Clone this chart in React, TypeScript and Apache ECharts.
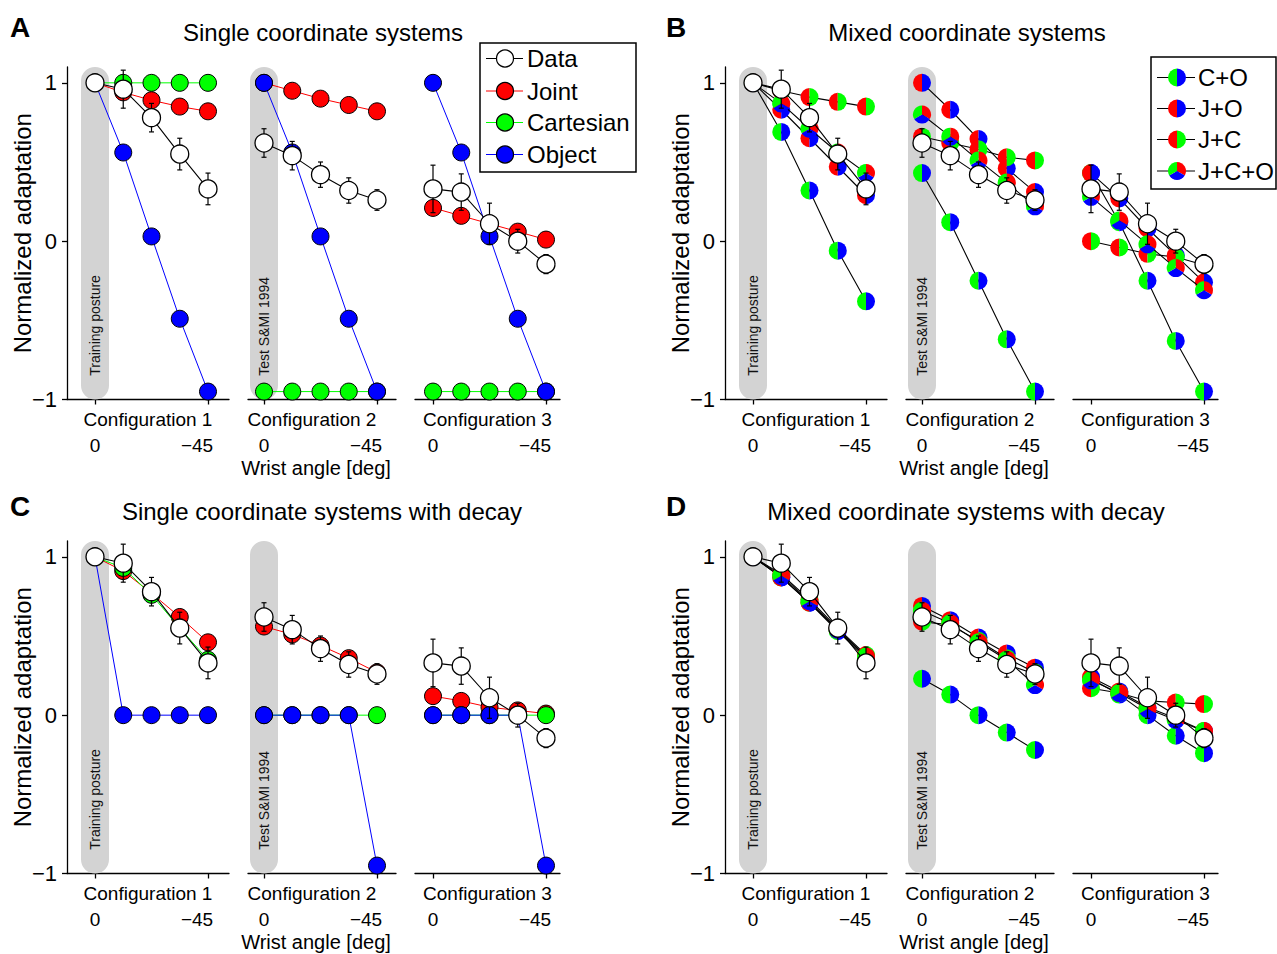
import React, { useEffect, useRef } from "react";
import * as echarts from "echarts";

const FONT = "'Liberation Sans', Arial, Helvetica, sans-serif";
const RED = "#ff0000";
const GREEN = "#00ff00";
const BLUE = "#0000ff";
const BAR_GRAY = "#d3d3d3";

// Test postures (wrist angle in degrees) for each configuration
const wristAngles = [0, -11.25, -22.5, -33.75, -45];
const configNames = ["Configuration 1", "Configuration 2", "Configuration 3"];
const barLabels = ["Training posture", "Test S&MI 1994"];
const yTicks = [-1, 0, 1];
const xTicks = [0, -45];
const Y_MIN = -1;
const Y_MAX = 1.1;
const BAR_LABEL_BOTTOM = -0.85;

const panelTitles = [
  "Single coordinate systems",
  "Mixed coordinate systems",
  "Single coordinate systems with decay",
  "Mixed coordinate systems with decay",
];
const panelLetters = ["A", "B", "C", "D"];

// Measured adaptation (mean and error), one row per configuration
const dataMean = [
  [1.0, 0.96, 0.78, 0.55, 0.33],
  [0.62, 0.54, 0.42, 0.32, 0.26],
  [0.33, 0.31, 0.11, 0.0, -0.145],
];
const dataErr = [
  [0, 0.12, 0.09, 0.1, 0.1],
  [0.09, 0.09, 0.08, 0.08, 0.065],
  [0.15, 0.115, 0.13, 0.075, 0.06],
];

// A: single coordinate systems
const singleJoint = [
  [1, 0.94, 0.89, 0.85, 0.82],
  [1, 0.95, 0.9, 0.86, 0.82],
  [0.21, 0.16, 0.11, 0.06, 0.01],
];
const singleCartesian = [
  [1, 1, 1, 1, 1],
  [-0.95, -0.95, -0.95, -0.95, -0.95],
  [-0.95, -0.95, -0.95, -0.95, -0.95],
];
const singleObject = [
  [1, 0.56, 0.03, -0.49, -0.95],
  [1, 0.56, 0.03, -0.49, -0.95],
  [1, 0.56, 0.03, -0.49, -0.95],
];

// C: single coordinate systems with decay
const decayJoint = [
  [1, 0.91, 0.77, 0.62, 0.46],
  [0.56, 0.51, 0.44, 0.36, 0.27],
  [0.12, 0.09, 0.05, 0.03, 0.01],
];
const decayCartesian = [
  [1, 0.93, 0.76, 0.55, 0.35],
  [0, 0, 0, 0, 0],
  [0, 0, 0, 0, 0],
];
const decayObject = [
  [1, 0, 0, 0, 0],
  [0, 0, 0, 0, -0.95],
  [0, 0, 0, 0, -0.95],
];

// B: mixed coordinate systems
const mixedCO = [
  [1, 0.69, 0.32, -0.06, -0.38],
  [0.43, 0.12, -0.25, -0.62, -0.95],
  [0.43, 0.12, -0.25, -0.63, -0.95],
];
const mixedJO = [
  [1, 0.83, 0.65, 0.47, 0.29],
  [1, 0.83, 0.645, 0.46, 0.31],
  [0.43, 0.27, 0.08, -0.09, -0.26],
];
const mixedJC = [
  [1, 0.95, 0.91, 0.88, 0.85],
  [0.66, 0.62, 0.58, 0.53, 0.51],
  [0.0, -0.04, -0.08, -0.1, -0.15],
];
const mixedJCO = [
  [1, 0.87, 0.71, 0.56, 0.43],
  [0.8, 0.66, 0.51, 0.37, 0.22],
  [0.28, 0.13, -0.02, -0.17, -0.31],
];

// D: mixed coordinate systems with decay
const decayMixedCO = [
  [1, 0.87, 0.71, 0.53, 0.36],
  [0.23, 0.13, 0.0, -0.11, -0.22],
  [0.23, 0.13, 0.0, -0.13, -0.24],
];
const decayMixedJO = [
  [1, 0.87, 0.71, 0.54, 0.37],
  [0.69, 0.6, 0.49, 0.39, 0.3],
  [0.24, 0.15, 0.05, -0.02, -0.1],
];
const decayMixedJC = [
  [1, 0.89, 0.73, 0.55, 0.38],
  [0.59, 0.57, 0.47, 0.36, 0.27],
  [0.17, 0.14, 0.09, 0.08, 0.07],
];
const decayMixedJCO = [
  [1, 0.88, 0.72, 0.54, 0.37],
  [0.66, 0.58, 0.46, 0.35, 0.19],
  [0.22, 0.14, 0.04, -0.03, -0.1],
];

// Layout (pixels) of one panel; other panels are shifted copies
const PANEL_OFFSETS = [
  { x: 0, y: 0 },
  { x: 658, y: 0 },
  { x: 0, y: 474 },
  { x: 658, y: 474 },
];
const TEXT_OFFSETS_Y = [0, 0, 479, 479];
const TITLE_X = [323, 967, 322, 966];
const LETTER_X = [10, 666, 10, 666];
const PLOT_TOP = 67;
const PLOT_BOTTOM = 399.5;
const CONFIG_PX = [
  { left: 67, zero: 95, end: 208, right: 229 },
  { left: 248, zero: 264, end: 377, right: 396 },
  { left: 415, zero: 433, end: 546, right: 560 },
];
const MARKER = 17;
const PIE_R = 9;

const H = Math.PI / 2;
type Seg = { from: number; to: number; color: string };
const halves = (left: string, right: string): Seg[] => [
  { from: H, to: 3 * H, color: left },
  { from: -H, to: H, color: right },
];
const thirds: Seg[] = [
  { from: -H, to: Math.PI / 6, color: RED },
  { from: Math.PI / 6, to: (5 * Math.PI) / 6, color: BLUE },
  { from: (5 * Math.PI) / 6, to: 3 * H, color: GREEN },
];
const mixedKinds = [
  { name: "C+O", segs: halves(GREEN, BLUE) },
  { name: "J+O", segs: halves(RED, BLUE) },
  { name: "J+C", segs: halves(RED, GREEN) },
  { name: "J+C+O", segs: thirds },
];
const singleKinds = [
  { name: "Joint", color: RED },
  { name: "Cartesian", color: GREEN },
  { name: "Object", color: BLUE },
];

const minus = (v: number) => (v < 0 ? "\u2212" + Math.abs(v) : String(v));
const pointsOf = (vals: number[]) => wristAngles.map((a, k) => [a, vals[k]]);

function buildOption() {
  const grids: any[] = [];
  const xAxes: any[] = [];
  const yAxes: any[] = [];
  const series: any[] = [];
  const graphics: any[] = [];

  const panels = [
    { mixed: false, sets: [singleJoint, singleCartesian, singleObject] },
    { mixed: true, sets: [mixedCO, mixedJO, mixedJC, mixedJCO] },
    { mixed: false, sets: [decayJoint, decayCartesian, decayObject] },
    { mixed: true, sets: [decayMixedCO, decayMixedJO, decayMixedJC, decayMixedJCO] },
  ];

  panels.forEach((panel, p) => {
    const off = PANEL_OFFSETS[p];
    for (let c = 0; c < 3; c++) {
      const L = CONFIG_PX[c];
      const gi = grids.length;
      const degPerPx = 45 / (L.end - L.zero);
      grids.push({
        left: off.x + L.left,
        top: off.y + PLOT_TOP,
        width: L.right - L.left,
        height: PLOT_BOTTOM - PLOT_TOP,
        outerBoundsMode: "none",
        containLabel: false,
      });
      xAxes.push({
        gridIndex: gi,
        type: "value",
        inverse: true,
        min: -45 - (L.right - L.end) * degPerPx,
        max: (L.zero - L.left) * degPerPx,
        name: configNames[c],
        nameLocation: "middle",
        nameGap: 10,
        nameMoveOverlap: false,
        nameTextStyle: {
          fontFamily: FONT,
          fontSize: 19,
          color: "#000",
          padding: c === 1 ? [0, 20, 0, 0] : 0,
        },
        axisLine: { onZero: false, lineStyle: { color: "#000", width: 1.3 } },
        axisTick: { show: true, customValues: xTicks, length: 5, lineStyle: { color: "#000", width: 1.3 } },
        axisLabel: {
          customValues: xTicks,
          margin: 36,
          fontFamily: FONT,
          fontSize: 19,
          color: "#000",
          formatter: (v: number) => (v === 0 ? "0" : `{far|${minus(v)}}`),
          rich: { far: { fontFamily: FONT, fontSize: 19, color: "#000", padding: [0, 22, 0, 0] } },
        },
        splitLine: { show: false },
      });
      yAxes.push({
        gridIndex: gi,
        type: "value",
        min: Y_MIN,
        max: Y_MAX,
        show: c === 0,
        name: c === 0 ? "Normalized adaptation" : "",
        nameLocation: "middle",
        nameGap: 33,
        nameMoveOverlap: false,
        nameTextStyle: { fontFamily: FONT, fontSize: 24, color: "#000" },
        axisLine: { show: true, onZero: false, lineStyle: { color: "#000", width: 1.3 } },
        axisTick: { show: true, customValues: yTicks, length: 5, lineStyle: { color: "#000", width: 1.3 } },
        axisLabel: {
          customValues: yTicks,
          margin: 10,
          fontFamily: FONT,
          fontSize: 22,
          color: "#000",
          formatter: (v: number) => minus(v),
        },
        splitLine: { show: false },
      });

      let z = 2;
      // grey band marking the training / previously tested posture
      if (c < 2) {
        const label = barLabels[c];
        series.push({
          type: "custom",
          xAxisIndex: gi,
          yAxisIndex: gi,
          z: z++,
          silent: true,
          data: [[0, Y_MAX, Y_MIN, BAR_LABEL_BOTTOM]],
          renderItem: (_params: any, api: any) => {
            const top = api.coord([api.value(0), api.value(1)]);
            const bot = api.coord([api.value(0), api.value(2)]);
            const txt = api.coord([api.value(0), api.value(3)]);
            const w = 28;
            return {
              type: "group",
              children: [
                {
                  type: "rect",
                  shape: { x: top[0] - w / 2, y: top[1], width: w, height: bot[1] - top[1], r: w / 2 },
                  style: { fill: BAR_GRAY },
                },
                {
                  type: "text",
                  x: txt[0],
                  y: txt[1],
                  rotation: Math.PI / 2,
                  style: {
                    text: label,
                    fontFamily: FONT,
                    fontSize: 14,
                    fill: "#111",
                    align: "left",
                    verticalAlign: "middle",
                  },
                },
              ],
            };
          },
        });
      }

      if (!panel.mixed) {
        singleKinds.forEach((kind, k) => {
          series.push({
            type: "line",
            name: kind.name,
            xAxisIndex: gi,
            yAxisIndex: gi,
            z: z++,
            data: pointsOf(panel.sets[k][c]),
            symbol: "circle",
            symbolSize: MARKER,
            showAllSymbol: true,
            clip: false,
            lineStyle: { color: kind.color, width: 1 },
            itemStyle: { color: kind.color, borderColor: "#000", borderWidth: 1 },
            emphasis: { disabled: true },
          });
        });
      } else {
        mixedKinds.forEach((kind, k) => {
          const vals = panel.sets[k][c];
          series.push({
            type: "line",
            name: kind.name,
            xAxisIndex: gi,
            yAxisIndex: gi,
            z: z++,
            data: pointsOf(vals),
            symbol: "none",
            clip: false,
            lineStyle: { color: "#000", width: 1.1 },
            emphasis: { disabled: true },
          });
          const segs = kind.segs;
          series.push({
            type: "custom",
            name: kind.name,
            xAxisIndex: gi,
            yAxisIndex: gi,
            z: z++,
            data: pointsOf(vals),
            renderItem: (_params: any, api: any) => {
              const pt = api.coord([api.value(0), api.value(1)]);
              return {
                type: "group",
                children: segs.map((s) => ({
                  type: "sector",
                  shape: { cx: pt[0], cy: pt[1], r0: 0, r: PIE_R, startAngle: s.from, endAngle: s.to, clockwise: true },
                  style: { fill: s.color },
                })),
              };
            },
          });
        });
      }

      // error bars of the measured data
      const mean = dataMean[c];
      const err = dataErr[c];
      series.push({
        type: "custom",
        xAxisIndex: gi,
        yAxisIndex: gi,
        z: z++,
        silent: true,
        data: wristAngles.map((a, k) => [a, mean[k] - err[k], mean[k] + err[k]]),
        renderItem: (_params: any, api: any) => {
          const lo = api.coord([api.value(0), api.value(1)]);
          const hi = api.coord([api.value(0), api.value(2)]);
          if (Math.abs(lo[1] - hi[1]) < 0.5) return { type: "group", children: [] };
          const cap = 2.5;
          const st = { stroke: "#000", lineWidth: 1.2 };
          return {
            type: "group",
            children: [
              { type: "line", shape: { x1: lo[0], y1: lo[1], x2: hi[0], y2: hi[1] }, style: st },
              { type: "line", shape: { x1: hi[0] - cap, y1: hi[1], x2: hi[0] + cap, y2: hi[1] }, style: st },
              { type: "line", shape: { x1: lo[0] - cap, y1: lo[1], x2: lo[0] + cap, y2: lo[1] }, style: st },
            ],
          };
        },
      });
      series.push({
        type: "line",
        name: "Data",
        xAxisIndex: gi,
        yAxisIndex: gi,
        z: z++,
        data: pointsOf(mean),
        symbol: "circle",
        symbolSize: MARKER + 1,
        showAllSymbol: true,
        clip: false,
        lineStyle: { color: "#000", width: 1.1 },
        itemStyle: { color: "#fff", borderColor: "#000", borderWidth: 1.3 },
        emphasis: { disabled: true },
      });
    }

    // panel letter, title and shared x-axis caption
    const ty = TEXT_OFFSETS_Y[p];
    graphics.push({
      type: "text",
      x: LETTER_X[p],
      y: ty + 27,
      style: { text: panelLetters[p], font: `bold 28px ${FONT}`, fill: "#000", align: "left", verticalAlign: "middle" },
    });
    graphics.push({
      type: "text",
      x: TITLE_X[p],
      y: ty + 32,
      style: { text: panelTitles[p], font: `24px ${FONT}`, fill: "#000", align: "center", verticalAlign: "middle" },
    });
    graphics.push({
      type: "text",
      x: off.x + 316,
      y: off.y + 468,
      style: { text: "Wrist angle [deg]", font: `20px ${FONT}`, fill: "#000", align: "center", verticalAlign: "middle" },
    });
  });

  // legend of the single-system models
  const legA = { x: 480, y: 43, w: 156, h: 129, rows: [58.5, 91, 122.5, 154.5] };
  const legAItems = [
    { name: "Data", line: "#000", fill: "#fff" },
    { name: "Joint", line: RED, fill: RED },
    { name: "Cartesian", line: GREEN, fill: GREEN },
    { name: "Object", line: BLUE, fill: BLUE },
  ];
  const legAChildren: any[] = [
    { type: "rect", shape: { x: legA.x, y: legA.y, width: legA.w, height: legA.h }, style: { fill: "#fff", stroke: "#000", lineWidth: 1.5 } },
  ];
  legAItems.forEach((it, i) => {
    const yy = legA.rows[i];
    legAChildren.push(
      { type: "line", shape: { x1: 486, y1: yy, x2: 523, y2: yy }, style: { stroke: it.line, lineWidth: 1.2 } },
      { type: "circle", shape: { cx: 505, cy: yy, r: 8.5 }, style: { fill: it.fill, stroke: "#000", lineWidth: 1.2 } },
      { type: "text", x: 527, y: yy, style: { text: it.name, font: `24px ${FONT}`, fill: "#000", align: "left", verticalAlign: "middle" } }
    );
  });
  graphics.push({ type: "group", z: 100, children: legAChildren });

  // legend of the mixed-system models
  const legB = { x: 1151, y: 57, w: 125, h: 132, rows: [77.5, 108.5, 139.5, 171] };
  const legBChildren: any[] = [
    { type: "rect", shape: { x: legB.x, y: legB.y, width: legB.w, height: legB.h }, style: { fill: "#fff", stroke: "#000", lineWidth: 1.5 } },
  ];
  mixedKinds.forEach((kind, i) => {
    const yy = legB.rows[i];
    legBChildren.push({ type: "line", shape: { x1: 1157, y1: yy, x2: 1195, y2: yy }, style: { stroke: "#000", lineWidth: 1.2 } });
    kind.segs.forEach((s) =>
      legBChildren.push({
        type: "sector",
        shape: { cx: 1177, cy: yy, r0: 0, r: PIE_R, startAngle: s.from, endAngle: s.to, clockwise: true },
        style: { fill: s.color },
      })
    );
    legBChildren.push({
      type: "text",
      x: 1198,
      y: yy,
      style: { text: kind.name, font: `24px ${FONT}`, fill: "#000", align: "left", verticalAlign: "middle" },
    });
  });
  graphics.push({ type: "group", z: 100, children: legBChildren });

  return {
    animation: false,
    backgroundColor: "#fff",
    textStyle: { fontFamily: FONT },
    grid: grids,
    xAxis: xAxes,
    yAxis: yAxes,
    series,
    graphic: graphics,
  };
}

export default function App() {
  const ref = useRef<HTMLDivElement>(null);
  useEffect(() => {
    if (!ref.current) return;
    const chart = echarts.init(ref.current, null, { renderer: "svg" });
    chart.setOption(buildOption() as any);
    return () => chart.dispose();
  }, []);
  return (
    <div
      ref={ref}
      style={{ position: "absolute", left: 0, top: 0, width: 1277, height: 954, background: "#fff" }}
    />
  );
}
